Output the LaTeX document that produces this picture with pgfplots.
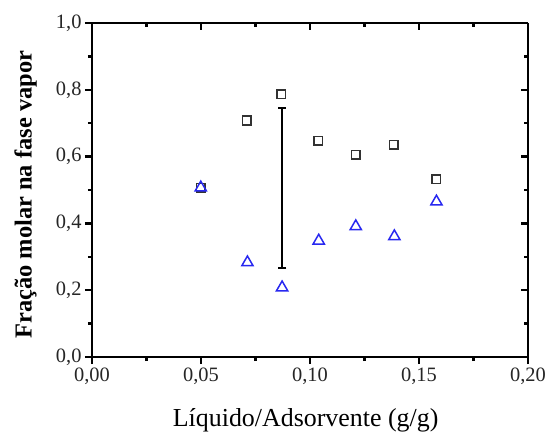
\documentclass[border=0pt]{standalone}
\usepackage{fontspec}
\setmainfont{Liberation Serif}
\usepackage{pgfplots}
\pgfplotsset{compat=1.18}
\usetikzlibrary{calc}
\definecolor{tricolor}{RGB}{40,40,240}
\definecolor{sqcolor}{RGB}{50,50,50}

\begin{document}
\begin{tikzpicture}
\pgfplotsset{
  base/.style={
    scale only axis, width=436bp, height=334bp,
    xmin=0, xmax=0.2, ymin=0, ymax=1,
    xtick={0,0.05,...,0.2}, ytick={0,0.2,...,1},
    minor xtick={0.025,0.075,...,0.2}, minor ytick={0.1,0.3,...,0.9},
    axis line style={line width=2.6bp},
    major tick length=7bp, minor tick length=4bp,
    every tick/.style={black, line width=2.3bp},
  }
}
\begin{axis}[base, name=ax,
    axis x line*=bottom, axis y line*=left,
    tick align=outside,
    /pgf/number format/assume math mode=true,
    /pgf/number format/use comma,
    xticklabel style={/pgf/number format/fixed, /pgf/number format/fixed zerofill, /pgf/number format/precision=2},
    yticklabel style={/pgf/number format/fixed, /pgf/number format/fixed zerofill, /pgf/number format/precision=1},
    scaled x ticks=false,
    tick label style={font=\fontsize{20.5}{20.5}\selectfont, text=black!85},
    xlabel={Líquido/Adsorvente (g/g)},
    ylabel={\bfseries Fração molar na fase vapor},
    xlabel style={font=\fontsize{26}{26}\selectfont, at={(axis description cs:0.49,-0.19)}, anchor=center},
    ylabel style={font=\fontsize{24.5}{24.5}\selectfont, at={(axis description cs:-0.152,0.486)}, anchor=center, rotate=0},
]
% error bar
\addplot[black, mark=none, draw=none,
  error bars/.cd, y dir=both, y explicit,
  error bar style={line width=2.3bp},
  error mark options={rotate=90, mark size=4bp, line width=1.7bp}]
  coordinates {(0.0873,0.506) +- (0,0.239)};
% squares
\addplot[only marks, mark=square, mark size=4.3bp, mark options={sqcolor, line width=1.6bp}]
  coordinates {
    (0.0499,0.507) (0.0710,0.708) (0.0867,0.787) (0.1038,0.647)
    (0.1210,0.605) (0.1385,0.635) (0.1578,0.532)
  };
% triangles
\addplot[only marks, mark=triangle, mark size=6.5bp, mark options={tricolor, line width=1.5bp}]
  coordinates {
    (0.0499,0.507) (0.0713,0.283) (0.0872,0.208) (0.1040,0.348)
    (0.1210,0.391) (0.1387,0.361) (0.1580,0.465)
  };
\end{axis}
\begin{axis}[base,
    axis x line*=top, axis y line*=right,
    tick align=inside,
    xticklabels={}, yticklabels={},
]
\end{axis}
\pgfresetboundingbox
\path[use as bounding box] ($(ax.south west)+(-92bp,-79bp)$) rectangle ($(ax.north east)+(20bp,23bp)$);
\end{tikzpicture}
\end{document}
